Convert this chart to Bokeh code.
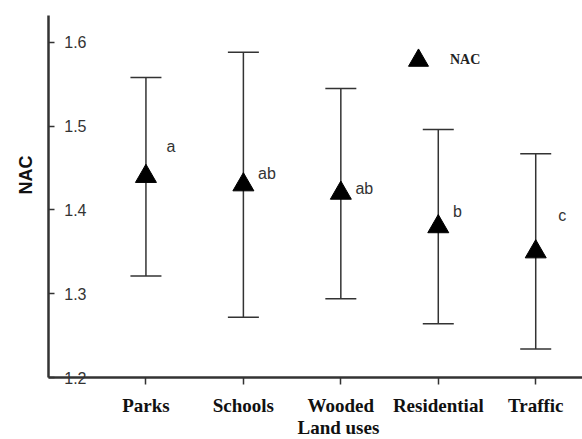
from bokeh.plotting import figure
from bokeh.models import (ColumnDataSource, Whisker, TeeHead, FixedTicker, Title,
                          Legend, LegendItem, Range1d)
from bokeh.core.properties import value
from bokeh.embed import file_html
from bokeh.resources import INLINE

# ---- data ----
categories = ["Parks", "Schools", "Wooded", "Residential", "Traffic"]
nac_mean = [1.44, 1.43, 1.42, 1.38, 1.35]
nac_upper = [1.558, 1.588, 1.545, 1.496, 1.467]
nac_lower = [1.321, 1.272, 1.294, 1.264, 1.234]
sig_letters = ["a", "ab", "ab", "b", "c"]
sig_letter_y = [1.476, 1.444, 1.425, 1.398, 1.393]
sig_letter_dx = [0.21, 0.15, 0.15, 0.15, 0.23]
y_ticks = [1.2, 1.3, 1.4, 1.5, 1.6]

xpos = [i + 1 for i in range(len(categories))]

src = ColumnDataSource(dict(x=xpos, mean=nac_mean, upper=nac_upper, lower=nac_lower))
lab_src = ColumnDataSource(dict(x=[x + d for x, d in zip(xpos, sig_letter_dx)],
                                y=sig_letter_y, text=sig_letters))

p = figure(width=582, height=439, output_backend="svg", toolbar_location=None,
           x_range=Range1d(0, 5.48), y_range=Range1d(1.2, 1.632),
           min_border_left=48, min_border_right=0, min_border_top=15, min_border_bottom=62)
p.outline_line_color = None
p.grid.visible = False
p.background_fill_color = "white"

# error bars
wh = Whisker(source=src, base="x", upper="upper", lower="lower",
             line_color="#333333", line_width=1.5, level="underlay",
             upper_head=TeeHead(size=31, line_color="#333333", line_width=1.5),
             lower_head=TeeHead(size=31, line_color="#333333", line_width=1.5))
p.add_layout(wh)

r = p.scatter("x", "mean", source=src, marker="triangle", size=21,
              fill_color="black", line_color="black")

p.text("x", "y", text="text", source=lab_src, text_font=value("Liberation Sans"),
       text_font_size="16px", text_color="#333333", text_align="left",
       text_baseline="alphabetic")

# x axis
xa = p.xaxis[0]
xa.ticker = FixedTicker(ticks=xpos)
xa.major_label_overrides = {x: c for x, c in zip(xpos, categories)}
xa.major_label_text_font = "Liberation Serif"
xa.major_label_text_font_style = "bold"
xa.major_label_text_font_size = "19px"
xa.major_label_text_color = "#111111"
xa.major_label_standoff = 10
xa.major_tick_in = 0
xa.major_tick_out = 7
xa.minor_tick_line_color = None
xa.axis_line_width = 2.5
xa.axis_line_color = "#333333"
xa.major_tick_line_color = "#333333"
xa.major_tick_line_width = 1.5

# y axis
ya = p.yaxis[0]
ya.ticker = FixedTicker(ticks=y_ticks)
ya.major_label_text_font = "Liberation Sans"
ya.major_label_text_font_size = "16px"
ya.major_label_text_color = "#333333"
ya.major_tick_in = 6
ya.major_tick_out = 0
ya.major_label_standoff = -38
ya.minor_tick_line_color = None
ya.axis_line_width = 2.5
ya.axis_line_color = "#333333"
ya.major_tick_line_color = "#333333"
ya.major_tick_line_width = 1.5

# axis titles
p.add_layout(Title(text="Land uses", align="left", offset=249, standoff=-3,
                   vertical_align="top",
                   text_font="Liberation Serif", text_font_style="bold",
                   text_font_size="19px", text_color="#111111"), "below")
p.add_layout(Title(text="NAC", align="right", offset=140, standoff=24,
                   vertical_align="middle",
                   text_font="Liberation Sans", text_font_style="bold",
                   text_font_size="18px", text_color="#111111"), "left")

legend = Legend(items=[LegendItem(label="NAC", renderers=[r])],
                location=(345, 292), glyph_width=50, glyph_height=50,
                padding=0, margin=0, spacing=0, label_standoff=7,
                border_line_color=None, background_fill_alpha=0,
                label_text_font="Liberation Serif", label_text_font_style="bold",
                label_text_font_size="14px", label_text_color="#222222")
p.add_layout(legend)

open("out.html", "w").write(file_html(p, INLINE))
